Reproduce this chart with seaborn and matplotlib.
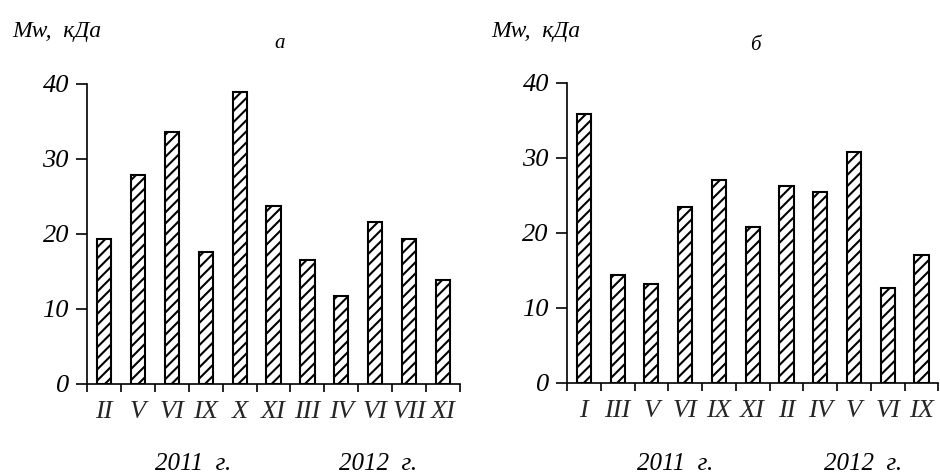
import matplotlib
matplotlib.use("Agg")
import matplotlib.pyplot as plt
import numpy as np
import pandas as pd
import seaborn as sns

# panel a
months_a = ["II", "V", "VI", "IX", "X", "XI", "III", "IV", "VI", "VII", "XI"]
years_a = ["2011"] * 6 + ["2012"] * 5
mw_a = [19.3, 27.9, 33.6, 17.6, 38.9, 23.7, 16.5, 11.7, 21.6, 19.3, 13.9]

# panel б
months_b = ["I", "III", "V", "VI", "IX", "XI", "II", "IV", "V", "VI", "IX"]
years_b = ["2011"] * 6 + ["2012"] * 5
mw_b = [35.9, 14.4, 13.2, 23.5, 27.1, 20.8, 26.2, 25.5, 30.8, 12.6, 17.0]

yticks = [0, 10, 20, 30, 40]

sns.set_theme(style="ticks")
plt.rcParams["font.family"] = ["Liberation Serif", "DejaVu Serif"]
plt.rcParams["font.style"] = "italic"
plt.rcParams["hatch.linewidth"] = 1.5
plt.rcParams["hatch.color"] = "black"


def draw_panel(ax, months, years, values):
    df = pd.DataFrame({"key": [y + " " + m for y, m in zip(years, months)],
                       "month": months, "mw": values})
    sns.barplot(data=df, x="key", y="mw", ax=ax, color="white",
                edgecolor="black", linewidth=1.5, hatch="///", width=0.42,
                saturation=1)
    n = len(months)
    ax.set_xlim(-0.5, n - 0.5)
    ax.set_ylim(0, 40)
    ax.set_yticks(yticks)
    ax.set_yticklabels([str(t) for t in yticks], fontsize=19)
    # major ticks on boundaries, labels on centers
    ax.set_xticks(np.arange(n + 1) - 0.5)
    ax.set_xticklabels([])
    ax.set_xticks(np.arange(n), minor=True)
    ax.set_xticklabels(df["month"], minor=True, fontsize=19)
    ax.tick_params(axis="x", which="major", length=6, width=1.2, color="black")
    ax.tick_params(axis="x", which="minor", length=0, pad=12)
    ax.tick_params(axis="y", length=8, width=1.2, color="black", pad=5)
    ax.set_xlabel("")
    ax.set_ylabel("")
    for s in ["top", "right"]:
        ax.spines[s].set_visible(False)
    for s in ["left", "bottom"]:
        ax.spines[s].set_color("black")
        ax.spines[s].set_linewidth(1.2)
    ax.tick_params(colors="black")


fig = plt.figure(figsize=(9.4, 4.74), dpi=100)
ax1 = fig.add_axes([0.0926, 0.190, 0.3968, 0.633])
ax2 = fig.add_axes([0.6032, 0.192, 0.3950, 0.633])

draw_panel(ax1, months_a, years_a, mw_a)
draw_panel(ax2, months_b, years_b, mw_b)

W, H = 940, 474


def ftext(x, y, s, size, ha="center"):
    fig.text(x / W, 1 - y / H, s, fontsize=size, ha=ha, va="center",
             style="italic", color="black")


ftext(12, 31, "Mw,  кДа", 17, ha="left")
ftext(491, 31, "Mw,  кДа", 17, ha="left")
ftext(280, 44, "а", 15)
ftext(755, 45, "б", 15)
ftext(193, 464, "2011  г.", 18)
ftext(378, 464, "2012  г.", 18)
ftext(675, 464, "2011  г.", 18)
ftext(863, 464, "2012  г.", 18)

fig.savefig("out.png", dpi=100, facecolor="white")
